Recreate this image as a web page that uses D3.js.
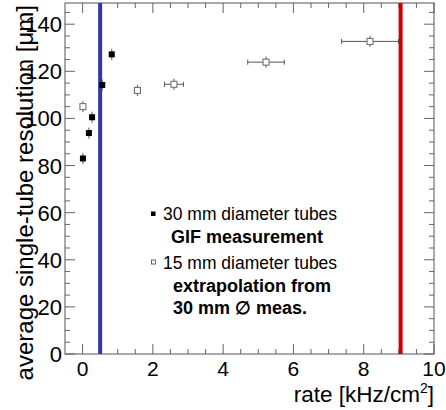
<!DOCTYPE html>
<meta charset="utf-8">
<head>
<script src="https://d3js.org/d3.v7.min.js"></script>
<style>
  body { margin: 0; background: #fff; }
  text { font-family: "Liberation Sans", Arial, sans-serif; }
</style>
</head>
<body>
<div id="my_dataviz"></div>
<script>

// 30 mm tubes, GIF measurement
var gifRate = [0.01, 0.18, 0.27, 0.56, 0.83];
var gifRes  = [83, 93.8, 100.5, 114.2, 127.2];
var gifResErr = [1.5, 1.5, 1.5, 1.5, 1.5];

// 15 mm tubes, extrapolated
var extRate = [0.01, 1.56, 2.6, 5.22, 8.18];
var extRes  = [105, 111.9, 114.5, 123.9, 132.7];
var extRateErr = [0, 0.08, 0.27, 0.52, 0.81];
var extResErr = [1.5, 1.5, 1.5, 1.5, 1.5];

// vertical limits
var limitRates = [0.5, 9.05];
var limitColors = ["#3535a5", "#d00000"];

var xTicks = [0, 2, 4, 6, 8, 10];
var yTicks = [0, 20, 40, 60, 80, 100, 120, 140];

var W = 446, H = 410;
var margin = {top: 3, right: 12, bottom: 56, left: 65};

var svg = d3.select("#my_dataviz")
  .append("svg")
    .attr("width", W)
    .attr("height", H);

var x = d3.scaleLinear().domain([-0.5, 10]).range([margin.left, W - margin.right]);
var y = d3.scaleLinear().domain([0, 149]).range([H - margin.bottom, margin.top]);

var x0 = x.range()[0], x1 = x.range()[1], y0 = y.range()[0], y1 = y.range()[1];
var tickCol = "#666";

// minor + major ticks, drawn inside the frame on all four sides
var xMinor = d3.range(0, 10.01, 0.5);
var yMinor = d3.range(0, 149, 5);
function tickLen(v, step) { return Math.abs(v / step - Math.round(v / step)) < 1e-6 ? 10 : 5; }

var ticks = svg.append("g").attr("stroke", tickCol).attr("stroke-width", 1);
xMinor.forEach(function(v) {
  var L = tickLen(v, 2);
  ticks.append("line").attr("x1", x(v)).attr("x2", x(v)).attr("y1", y0).attr("y2", y0 - L);
  ticks.append("line").attr("x1", x(v)).attr("x2", x(v)).attr("y1", y1).attr("y2", y1 + L);
});
yMinor.forEach(function(v) {
  var L = tickLen(v, 20);
  ticks.append("line").attr("y1", y(v)).attr("y2", y(v)).attr("x1", x0).attr("x2", x0 + L);
  ticks.append("line").attr("y1", y(v)).attr("y2", y(v)).attr("x1", x1).attr("x2", x1 - L);
});

// frame
svg.append("rect")
  .attr("x", x0).attr("y", y1)
  .attr("width", x1 - x0).attr("height", y0 - y1)
  .attr("fill", "none").attr("stroke", "#555").attr("stroke-width", 1);

// tick labels
svg.append("g").selectAll("text").data(xTicks).join("text")
  .attr("x", function(d) { return x(d); })
  .attr("y", 376)
  .attr("text-anchor", "middle")
  .attr("font-size", 21)
  .text(function(d) { return d; });

svg.append("g").selectAll("text").data(yTicks).join("text")
  .attr("x", 62)
  .attr("y", function(d) { return y(d) + 8; })
  .attr("text-anchor", "end")
  .attr("font-size", 22)
  .text(function(d) { return d; });

// axis titles
var xt = svg.append("text")
  .attr("x", x1)
  .attr("y", 402)
  .attr("text-anchor", "end")
  .attr("font-size", 22.5);
xt.append("tspan").text("rate [kHz/cm");
xt.append("tspan").attr("dy", -9).attr("font-size", 14).text("2");
xt.append("tspan").attr("dy", 9).text("]");

svg.append("text")
  .attr("transform", "translate(33," + (y1 + 2) + ") rotate(-90)")
  .attr("text-anchor", "end")
  .attr("font-size", 24)
  .text("average single-tube resolution [\u03bcm]");

// limit lines
svg.append("g").selectAll("line").data(limitRates).join("line")
  .attr("x1", function(d) { return x(d); })
  .attr("x2", function(d) { return x(d); })
  .attr("y1", y0).attr("y2", y1)
  .attr("stroke", function(d, i) { return limitColors[i]; })
  .attr("stroke-width", 4);

// error bars
var eb = svg.append("g").attr("stroke", "#555").attr("stroke-width", 1);
extRate.forEach(function(r, i) {
  if (extRateErr[i] > 0) {
    eb.append("line").attr("x1", x(r - extRateErr[i])).attr("x2", x(r + extRateErr[i]))
      .attr("y1", y(extRes[i])).attr("y2", y(extRes[i]));
    [r - extRateErr[i], r + extRateErr[i]].forEach(function(e) {
      eb.append("line").attr("x1", x(e)).attr("x2", x(e))
        .attr("y1", y(extRes[i]) - 2.5).attr("y2", y(extRes[i]) + 2.5);
    });
  }
  eb.append("line").attr("x1", x(r)).attr("x2", x(r))
    .attr("y1", y(extRes[i] - extResErr[i]) + 2).attr("y2", y(extRes[i] + extResErr[i]) - 2);
});
gifRate.forEach(function(r, i) {
  eb.append("line").attr("x1", x(r)).attr("x2", x(r))
    .attr("y1", y(gifRes[i] - gifResErr[i]) + 2).attr("y2", y(gifRes[i] + gifResErr[i]) - 2);
});

// markers
var s = 6;
svg.append("g").selectAll("rect").data(extRate).join("rect")
  .attr("x", function(d) { return x(d) - s / 2; })
  .attr("y", function(d, i) { return y(extRes[i]) - s / 2; })
  .attr("width", s).attr("height", s)
  .attr("fill", "#fff").attr("stroke", "#666").attr("stroke-width", 1);

svg.append("g").selectAll("rect").data(gifRate).join("rect")
  .attr("x", function(d) { return x(d) - s / 2; })
  .attr("y", function(d, i) { return y(gifRes[i]) - s / 2; })
  .attr("width", s).attr("height", s)
  .attr("fill", "#000");

// legend
var leg = svg.append("g");
leg.append("rect").attr("x", 151).attr("y", 211.5).attr("width", 4.5).attr("height", 4.5).attr("fill", "#000");
leg.append("rect").attr("x", 151.5).attr("y", 260).attr("width", 4).attr("height", 4)
  .attr("fill", "#fff").attr("stroke", "#666").attr("stroke-width", 1);
leg.append("text").attr("x", 163).attr("y", 219.5).attr("font-size", 17.5).text("30 mm diameter tubes");
leg.append("text").attr("x", 171).attr("y", 242.5).attr("font-size", 18).attr("font-weight", "bold").text("GIF measurement");
leg.append("text").attr("x", 163).attr("y", 269).attr("font-size", 17.5).text("15 mm diameter tubes");
leg.append("text").attr("x", 173).attr("y", 292).attr("font-size", 18).attr("font-weight", "bold").text("extrapolation from");
leg.append("text").attr("x", 173).attr("y", 313.5).attr("font-size", 18).attr("font-weight", "bold").text("30 mm \u2205 meas.");

</script>
</body>
</html>
